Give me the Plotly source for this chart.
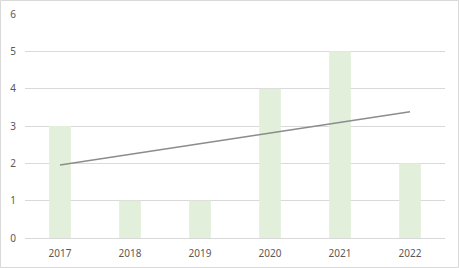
import numpy as np
import plotly.graph_objects as go

years = ["2017", "2018", "2019", "2020", "2021", "2022"]
values = [3, 1, 1, 4, 5, 2]

idx = np.arange(len(values))
slope, intercept = np.polyfit(idx, values, 1)
trend = slope * idx + intercept

W, H = 459, 268
L, R, T, B = 25, 14, 14, 30
pw, ph = W - L - R, H - T - B

fig = go.Figure()
fig.add_trace(go.Bar(x=years, y=values, marker=dict(color="#E2EFDA", line=dict(width=0)),
                     width=0.31, showlegend=False))
fig.add_trace(go.Scatter(x=years, y=trend, mode="lines",
                         line=dict(color="#8C8C8C", width=1.5), showlegend=False))

fig.update_layout(
    width=W, height=H,
    margin=dict(l=L, r=R, t=T, b=B, autoexpand=False),
    paper_bgcolor="white", plot_bgcolor="white",
    font=dict(family="Noto Sans, Liberation Sans, sans-serif", size=10, color="#595959"),
    bargap=0.69,
    xaxis=dict(showgrid=False, showline=True, linecolor="#D9D9D9", linewidth=1,
               ticks="", ticklabelstandoff=6, automargin=False,
               tickfont=dict(size=10, color="#595959")),
    yaxis=dict(range=[0, 6], dtick=1, showgrid=True, gridcolor="#D9D9D9", gridwidth=1,
               zeroline=False, showline=False, ticks="", ticklabelstandoff=8,
               automargin=False, tickfont=dict(size=10, color="#595959")),
    shapes=[dict(type="rect", xref="paper", yref="paper",
                 x0=(0.5 - L) / pw, x1=(W - 0.5 - L) / pw,
                 y0=(H - B - (H - 0.5)) / ph, y1=(H - B - 0.5) / ph,
                 line=dict(color="#D9D9D9", width=1), layer="above")],
)

fig.write_html("out.html", config={"displayModeBar": False},
               post_script="document.body.style.margin='0';document.body.style.overflow='hidden';")
